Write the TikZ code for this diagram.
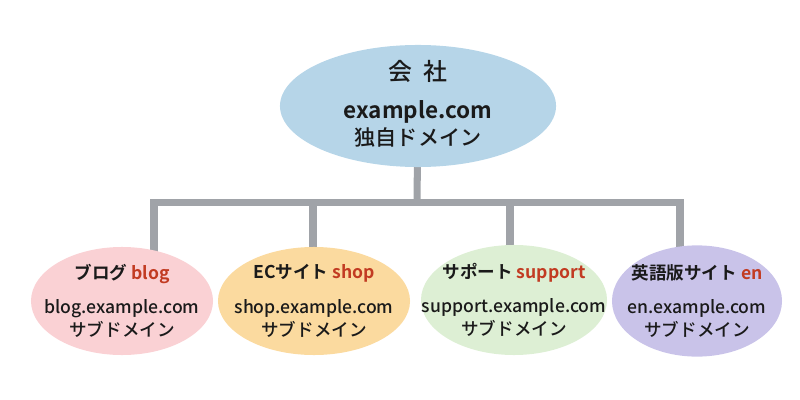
\documentclass[tikz,border=0pt]{standalone}
\usepackage{fontspec}
\setmainfont{Noto Sans CJK JP Medium}[BoldFont={Noto Sans CJK JP Bold}]
\usetikzlibrary{shapes.geometric,backgrounds}
\definecolor{topblue}{HTML}{B6D5E8}
\definecolor{blogpink}{HTML}{FAD1D4}
\definecolor{shoporange}{HTML}{FBDA9F}
\definecolor{supportgreen}{HTML}{DDEFD4}
\definecolor{enpurple}{HTML}{C9C3E9}
\definecolor{wiregray}{HTML}{A0A3A8}
\definecolor{subred}{HTML}{C23B22}
\definecolor{inkblack}{HTML}{1A1A1A}
\newcommand{\subname}[1]{\textcolor{subred}{#1}}
\begin{document}
\begin{tikzpicture}[x=0.025cm,y=-0.025cm,font=\fontsize{12.5}{16.5}\selectfont,text=inkblack,
	oval/.style={ellipse,inner sep=0pt,draw=none,minimum height=2.7cm},
	ovaltext/.style={align=center,inner sep=0pt},
	wire/.style={line width=5pt,draw=wiregray,line join=miter}]
	\useasboundingbox (0,0) rectangle (800,400);
	% company and sub domains
	\node[oval,fill=topblue,minimum width=6.9cm,minimum height=3.05cm] (company) at (418,106) {};
	\node[ovaltext,font=\fontsize{15}{19}\selectfont] (companytxt) at (418,104) {{\fontsize{17}{19}\selectfont 会\hspace{0.45em}社}\\[8pt]{\fontsize{16}{19}\selectfont\textbf{example.com}}\\独自ドメイン};
	\node[oval,fill=blogpink,minimum width=4.55cm] (blog) at (122,301) {};
	\node[ovaltext] (blogtxt) at (blog) {\textbf{ブログ \subname{blog}}\\[8pt]blog.example.com\\サブドメイン};
	\node[oval,fill=shoporange,minimum width=4.8cm] (shop) at (314,301) {};
	\node[ovaltext] (shoptxt) at (shop) {\textbf{ECサイト \subname{shop}}\\[8pt]shop.example.com\\サブドメイン};
	\node[oval,fill=supportgreen,minimum width=4.65cm,minimum height=2.75cm] (support) at (514,300) {};
	\node[ovaltext] (supporttxt) at (support) {\textbf{サポート \subname{support}}\\[8pt]support.example.com\\サブドメイン};
	\node[oval,fill=enpurple,minimum width=4.25cm,minimum height=2.78cm] (en) at (697,301) {};
	\node[ovaltext] (entxt) at (en) {\textbf{英語版サイト \subname{en}}\\[8pt]en.example.com\\サブドメイン};
	% tree lines
	\coordinate (b1) at (154,202.5);
	\coordinate (b2) at (313,202.5);
	\coordinate (hub) at (417,202.5);
	\coordinate (b3) at (510,202.5);
	\coordinate (b4) at (680,202.5);
	\begin{scope}[on background layer]
		\draw[wire] (company.center) -- (hub);
		\draw[wire] (b1 |- blog.center) -- (b1) -- (b4) -- (b4 |- en.center);
		\draw[wire] (b2) -- (b2 |- shop.center);
		\draw[wire] (b3) -- (b3 |- support.center);
	\end{scope}
\end{tikzpicture}
\end{document}
